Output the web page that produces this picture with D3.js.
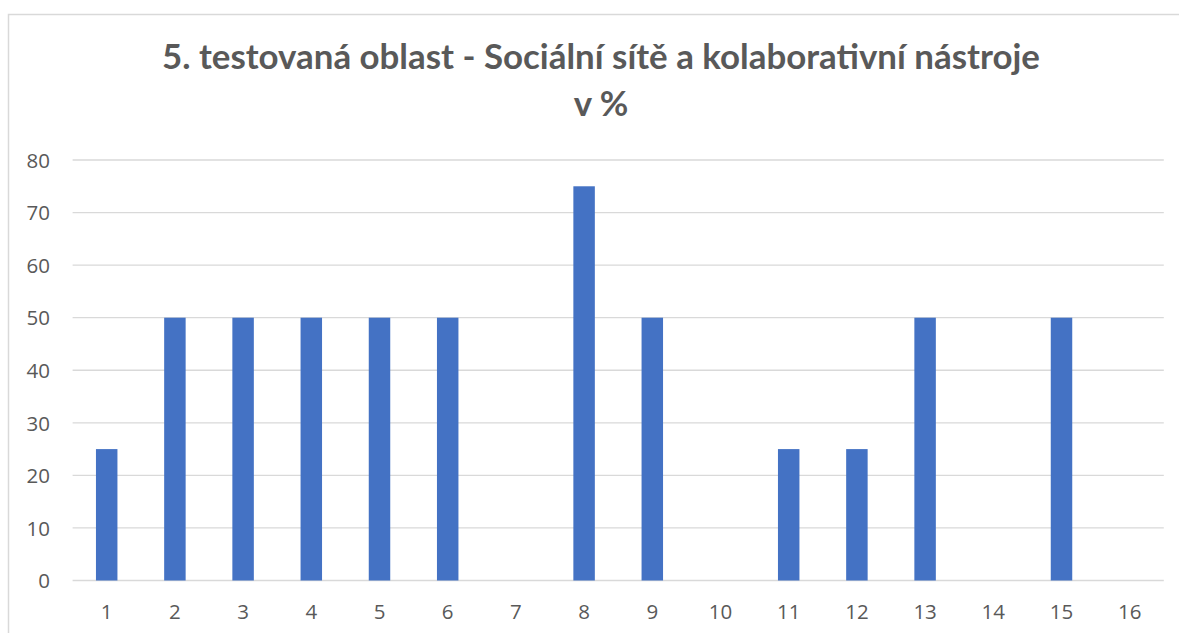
<!DOCTYPE html>
<html><head><meta charset="utf-8">
<script src="https://cdn.jsdelivr.net/npm/d3@7"></script>
<style>html,body{margin:0;padding:0;background:#fff;}svg{display:block;}</style>
</head><body>
<svg id="c" width="1179" height="633"></svg>
<script>
const categories = ["1","2","3","4","5","6","7","8","9","10","11","12","13","14","15","16"];
const values = [25,50,50,50,50,50,0,75,50,0,25,25,50,0,50,0];
const yTicks = [0,10,20,30,40,50,60,70,80];
const titleLines = ["5. testovaná oblast - Sociální sítě a kolaborativní nástroje","v %"];

const svg = d3.select("#c");
const m = {left:72.6, right:1163.8, top:160, bottom:580.5};

svg.append("rect").attr("x",8.5).attr("y",14.5).attr("width",1200).attr("height",700)
  .attr("fill","#fff").attr("stroke","#d9d9d9").attr("stroke-width",1.5);

const x = d3.scaleBand().domain(categories).range([m.left,m.right]).paddingInner(0.685).paddingOuter(0.3425);
const y = d3.scaleLinear().domain([0,80]).range([m.bottom,m.top]);

svg.append("g").selectAll("line").data(yTicks).join("line")
  .attr("x1",m.left).attr("x2",m.right)
  .attr("y1",d=>y(d)).attr("y2",d=>y(d))
  .attr("stroke","#d9d9d9").attr("stroke-width",1.3);

svg.append("g").selectAll("rect").data(values).join("rect")
  .attr("x",(d,i)=>x(categories[i]))
  .attr("width",x.bandwidth())
  .attr("y",d=>y(d))
  .attr("height",d=>y(0)-y(d))
  .attr("fill","#4472C4");

const tickFont = "'Open Sans', sans-serif";
const yAxis = d3.axisLeft(y).tickValues(yTicks).tickSize(0).tickPadding(0);
const gy = svg.append("g").attr("transform",`translate(50,0)`).call(yAxis);
gy.select(".domain").remove();
gy.attr("font-size",null).attr("font-family",null);
gy.selectAll("text").style("font-family",tickFont).style("font-size","20.5px").attr("fill","#595959").attr("dy","0.35em");

const xAxis = d3.axisBottom(x).tickSize(0).tickPadding(0);
const gx = svg.append("g").attr("transform",`translate(0,${m.bottom})`).call(xAxis);
gx.select(".domain").remove();
gx.attr("font-size",null).attr("font-family",null);
gx.selectAll("text").style("font-family",tickFont).style("font-size","20.5px").attr("fill","#595959").attr("y",0).attr("dy","38.5");

const titleFont = "Lato, sans-serif";
const t1 = svg.append("text").attr("x",601).attr("y",69).attr("text-anchor","middle")
  .style("font-family",titleFont).style("font-weight","bold").attr("fill","#595959")
  .style("font-size","32px").text(titleLines[0]);
const w = t1.node().getComputedTextLength();
const fs = 32*878/w;
t1.style("font-size",fs+"px");
svg.append("text").attr("x",601).attr("y",116).attr("text-anchor","middle")
  .style("font-family",titleFont).style("font-weight","bold").attr("fill","#595959")
  .style("font-size",fs+"px").text(titleLines[1]);
</script>
</body></html>
